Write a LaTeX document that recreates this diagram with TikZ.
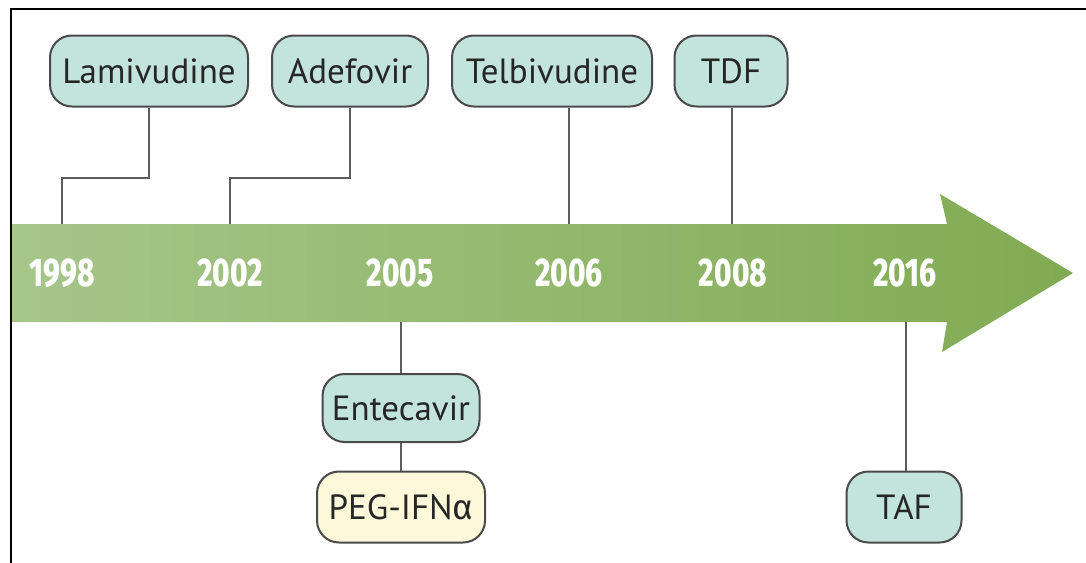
\documentclass[tikz,border=0pt]{standalone}
\usepackage{fontspec}
\setmainfont{PT Sans}
\newfontfamily\alphafont{Fira Sans}
\newfontfamily\yearfont[FakeStretch=0.74]{Fira Sans ExtraBold}
\usetikzlibrary{calc}
\definecolor{boxfill}{HTML}{C3E4DD}
\definecolor{pegfill}{HTML}{FCF8D9}
\definecolor{boxline}{HTML}{4A4A4A}
\definecolor{arrowL}{HTML}{A6C68A}
\definecolor{arrowR}{HTML}{80AB52}
\tikzset{
  drug/.style={draw=boxline, line width=1pt, fill=boxfill, rounded corners=11pt,
    inner sep=0pt, minimum height=35.5pt, font=\fontsize{17.5}{20}\selectfont, text=black!85},
  conn/.style={draw=boxline!90, line width=0.9pt},
  year/.style={text=white, font=\yearfont\fontsize{20}{22}\selectfont, inner sep=0pt},
}
\begin{document}
\begin{tikzpicture}[x=0.5pt,y=-0.5pt]
\useasboundingbox (0,0) rectangle (1086,562);
\fill[white] (0,0) rectangle (1086,562);
% frame
\draw[line width=1.3pt, black] (11,563) -- (11,9) -- (1087,9);
% arrow
\shade[left color=arrowL, right color=arrowR, shading angle=90]
  (12,224) -- (947,224) -- (940,194) -- (1073,273) -- (942,352) -- (947,322) -- (12,322) -- cycle;
% years
\node[year] (y1998) at (62,273) {1998};
\node[year] (y2002) at (230,273) {2002};
\node[year] (y2005) at (400,273) {2005};
\node[year] (y2006) at (569,273) {2006};
\node[year] (y2008) at (733,273) {2008};
\node[year] (y2016) at (905,273) {2016};
% anchor coordinates on arrow edges
\coordinate (t1998) at (62,224);
\coordinate (t2002) at (230,224);
\coordinate (t2006) at (569,224);
\coordinate (t2008) at (732,224);
\coordinate (b2005) at (401,322);
\coordinate (b2016) at (906,322);
\coordinate (k1) at (62,178);
\coordinate (k2) at (230,178);
% drug boxes
\node[drug, minimum width=99pt] (lam) at (149,71) {Lamivudine};
\node[drug, minimum width=78pt] (ade) at (350,71) {Adefovir};
\node[drug, minimum width=100pt] (tel) at (552,71) {Telbivudine};
\node[drug, minimum width=56.5pt] (tdf) at (731,71) {TDF};
\node[drug, minimum width=78.5pt, minimum height=34pt] (ent) at (401,408) {Entecavir};
\node[drug, fill=pegfill, minimum width=84pt] (peg) at (401,507) {PEG-IFN{\alphafont α}};
\node[drug, minimum width=57.5pt] (taf) at (904,507) {TAF};
% connectors
\draw[conn] (lam.south) |- (k1) -- (t1998);
\draw[conn] (ade.south) |- (k2) -- (t2002);
\draw[conn] (tel.south -| t2006) -- (t2006);
\draw[conn] (tdf.south -| t2008) -- (t2008);
\draw[conn] (b2005) -- (ent.north);
\draw[conn] (ent.south) -- (peg.north);
\draw[conn] (b2016) -- (taf.north -| b2016);
\end{tikzpicture}
\end{document}
